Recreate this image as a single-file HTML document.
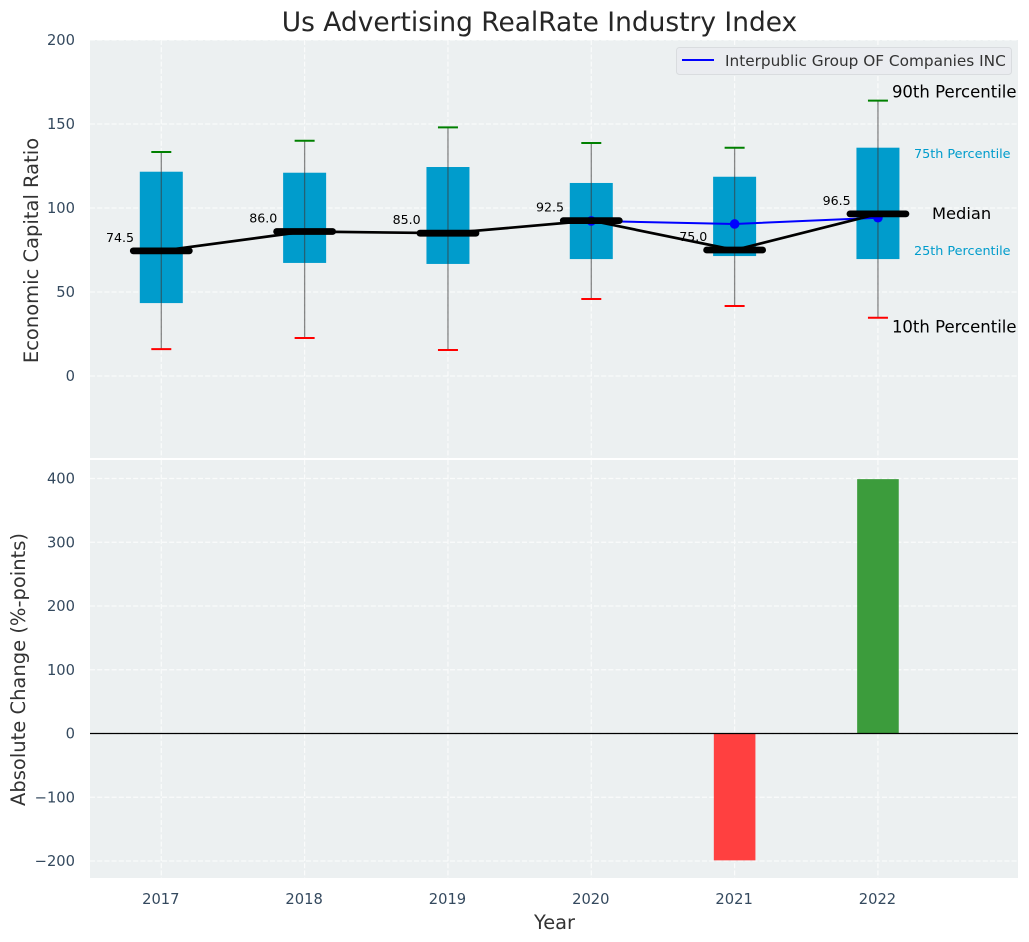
<!DOCTYPE html>
<html lang="en">
<head>
<meta charset="utf-8">
<title>Us Advertising RealRate Industry Index</title>
<style>
html,body{margin:0;padding:0;background:#fff;width:1029px;height:942px;overflow:hidden}
svg{display:block;font-family:"DejaVu Sans","Liberation Sans",sans-serif}
</style>
</head>
<body>
<svg id="chart" xmlns="http://www.w3.org/2000/svg" width="1029" height="942" viewBox="0 0 1029 942">
  <rect x="90" y="40" width="928" height="418" fill="#ecf0f1"/>
  <rect x="90" y="460" width="928" height="418" fill="#ecf0f1"/>
  <g id="grid" opacity="0.75"></g>
  <g id="bars"></g>
  <g id="boxes"></g>
  <g id="lines"></g>
  <g id="labels"></g>
  <g id="ticks"></g>
  <text x="539.5" y="31" text-anchor="middle" font-size="26.45" fill="#262626">Us Advertising RealRate Industry Index</text>
  <text transform="translate(38,250.5) rotate(-90)" text-anchor="middle" font-size="19.5" fill="#333">Economic Capital Ratio</text>
  <text transform="translate(25,669.5) rotate(-90)" text-anchor="middle" font-size="19.5" fill="#333">Absolute Change (%-points)</text>
  <text x="554.5" y="929" text-anchor="middle" font-size="19.4" fill="#333">Year</text>
  <g>
    <rect x="676.5" y="47.5" width="335" height="27" rx="3" fill="#eaecf0" stroke="#d9dcdf"/>
    <line x1="682" y1="60" x2="714" y2="60" stroke="#0000ff" stroke-width="2"/>
    <text x="725" y="66" font-size="15.3" fill="#333">Interpublic Group OF Companies INC</text>
  </g>
</svg>
<script>
var years = [2017, 2018, 2019, 2020, 2021, 2022];
var p10 = [16, 22.6, 15.5, 45.8, 41.7, 34.7];
var p25 = [43.4, 67.3, 66.7, 69.6, 71.4, 69.6];
var medians = [74.5, 86, 85, 92.5, 75, 96.5];
var p75 = [121.6, 121, 124.4, 114.9, 118.6, 135.9];
var p90 = [133.3, 140, 148, 138.7, 135.9, 163.9];
var companyValues = [null, null, null, 92.3, 90.5, 94.2];
var absoluteChange = [0, 0, 0, 0, -199, 399];
var topTicks = [0, 50, 100, 150, 200];
var bottomTicks = [-200, -100, 0, 100, 200, 300, 400];

var NS = 'http://www.w3.org/2000/svg';
function x(year) { return 161.3 + (year - 2017) * 143.33; }
function yTop(v) { return 376 - v * 1.68; }
function yBottom(v) { return 733.5 - v * 0.6375; }
function make(parent, tag, attrs, text) {
  var el = document.createElementNS(NS, tag);
  for (var k in attrs) { el.setAttribute(k, attrs[k]); }
  if (text !== undefined) { el.textContent = text; }
  document.getElementById(parent).appendChild(el);
  return el;
}
function fmt(v) { return String(v).replace('-', '\u2212'); }
var el, i;

/* grid */
topTicks.forEach(function (t) {
  el = make('grid', 'line', {x1: 90, x2: 1018, y1: yTop(t), y2: yTop(t), stroke: '#fff', 'stroke-width': 1.2, 'stroke-dasharray': '5 2.2'});
  
  
  el = make('ticks', 'text', {x: 75, y: yTop(t) + 5, 'text-anchor': 'end', 'font-size': 14.7, fill: '#34495e'}, fmt(t));
  
  
});
bottomTicks.forEach(function (t) {
  el = make('grid', 'line', {x1: 90, x2: 1018, y1: yBottom(t), y2: yBottom(t), stroke: '#fff', 'stroke-width': 1.2, 'stroke-dasharray': '5 2.2'});
  
  
  el = make('ticks', 'text', {x: 75, y: yBottom(t) + 5, 'text-anchor': 'end', 'font-size': 14.7, fill: '#34495e'}, fmt(t));
  
  
});
years.forEach(function (yr) {
  el = make('grid', 'line', {x1: x(yr), x2: x(yr), y1: 40, y2: 458, stroke: '#fff', 'stroke-width': 1.2, 'stroke-dasharray': '5 2.2'});
  
  
  el = make('grid', 'line', {x1: x(yr), x2: x(yr), y1: 460, y2: 878, stroke: '#fff', 'stroke-width': 1.2, 'stroke-dasharray': '5 2.2'});
  
  
  el = make('ticks', 'text', {x: x(yr) - 0.5, y: 904, 'text-anchor': 'middle', 'font-size': 14.7, fill: '#34495e'}, yr);
  
  
});

/* change bars */
years.forEach(function (yr, n) {
  var v = absoluteChange[n];
  if (!v) { return; }
  el = make('bars', 'rect', {x: x(yr) - 20.8, width: 41.6, y: Math.min(yBottom(v), yBottom(0)), height: Math.abs(yBottom(v) - yBottom(0)), fill: v > 0 ? '#3c9c3c' : '#ff4040'});
  
  
});
el = make('bars', 'line', {x1: 90, x2: 1018, y1: yBottom(0), y2: yBottom(0), stroke: '#000', 'stroke-width': 1.2});



/* boxes and whiskers */
years.forEach(function (yr, n) {
  var cx = x(yr);
  el = make('boxes', 'rect', {x: cx - 21.5, width: 43, y: yTop(p75[n]), height: yTop(p25[n]) - yTop(p75[n]), fill: '#009ccc'});
  
  
  el = make('boxes', 'line', {x1: cx, x2: cx, y1: yTop(p90[n]), y2: yTop(p10[n]), stroke: '#3a3a3a', 'stroke-opacity': 0.6, 'stroke-width': 1.3});
  
  
  el = make('boxes', 'line', {x1: cx - 10, x2: cx + 10, y1: yTop(p90[n]), y2: yTop(p90[n]), stroke: '#008000', 'stroke-width': 2});
  
  
  el = make('boxes', 'line', {x1: cx - 10, x2: cx + 10, y1: yTop(p10[n]), y2: yTop(p10[n]), stroke: '#ff0000', 'stroke-width': 2});
  
  
});

/* company line */
var companyPts = [];
years.forEach(function (yr, n) {
  if (companyValues[n] !== null) { companyPts.push(x(yr) + ',' + yTop(companyValues[n])); }
});
el = make('lines', 'polyline', {points: companyPts.join(' '), fill: 'none', stroke: '#0000ff', 'stroke-width': 2});


years.forEach(function (yr, n) {
  if (companyValues[n] === null) { return; }
  el = make('lines', 'circle', {cx: x(yr), cy: yTop(companyValues[n]), r: 4.8, fill: '#0000ff'});
  
  
});

/* median line */
var medianPts = years.map(function (yr, n) { return x(yr) + ',' + yTop(medians[n]); });
el = make('lines', 'polyline', {points: medianPts.join(' '), fill: 'none', stroke: '#000', 'stroke-width': 2.7});


years.forEach(function (yr, n) {
  el = make('lines', 'line', {x1: x(yr) - 28, x2: x(yr) + 28, y1: yTop(medians[n]), y2: yTop(medians[n]), stroke: '#000', 'stroke-width': 6.8, 'stroke-linecap': 'round'});
  
  
  el = make('labels', 'text', {x: x(yr) - 27.3, y: yTop(medians[n]) - 9, 'text-anchor': 'end', 'font-size': 12.6, fill: '#000'}, medians[n].toFixed(1));
  
  
});

/* percentile annotations for the last year */
i = years.length - 1;
el = make('labels', 'text', {x: x(years[i]) + 14, y: yTop(p90[i]) - 3, 'font-size': 16.5, fill: '#000'}, '90th Percentile');


el = make('labels', 'text', {x: x(years[i]) + 36, y: yTop(p75[i]) + 10.5, 'font-size': 12.8, fill: '#009ccc'}, '75th Percentile');


el = make('labels', 'text', {x: x(years[i]) + 54, y: yTop(medians[i]) + 5, 'font-size': 16.3, fill: '#000'}, 'Median');


el = make('labels', 'text', {x: x(years[i]) + 36, y: yTop(p25[i]) - 4, 'font-size': 12.8, fill: '#009ccc'}, '25th Percentile');


el = make('labels', 'text', {x: x(years[i]) + 14, y: yTop(p10[i]) + 15, 'font-size': 16.5, fill: '#000'}, '10th Percentile');


</script>
</body>
</html>
